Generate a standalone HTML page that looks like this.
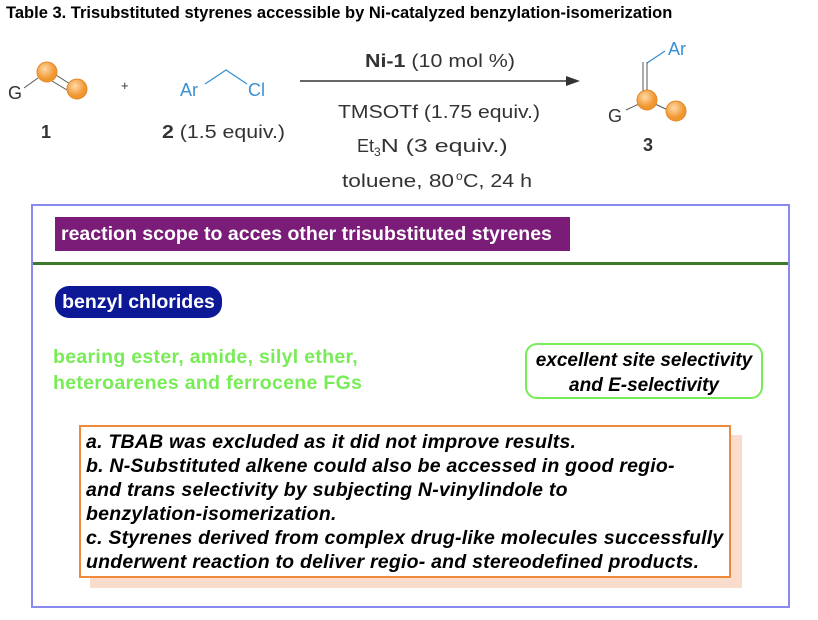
<!DOCTYPE html>
<html><head><style>
body{margin:0;width:818px;height:620px;background:#fff;position:relative;font-family:"Liberation Sans",sans-serif;overflow:hidden}
.a{position:absolute;white-space:nowrap}
</style></head><body>
<div class="a" style="left:6px;top:4px;font-size:16.5px;font-weight:bold;color:#000">Table 3. Trisubstituted styrenes accessible by Ni-catalyzed benzylation-isomerization</div>
<svg class="a" style="left:0;top:0" width="818" height="200">
<defs><radialGradient id="g" cx="40%" cy="35%"><stop offset="0" stop-color="#ffd9a8"/><stop offset="1" stop-color="#f0962e"/></radialGradient></defs>
<g font-family="Liberation Sans" font-size="18" fill="#333">
<line x1="24" y1="88" x2="38" y2="78" stroke="#555"/>
<line x1="56" y1="75" x2="70" y2="84" stroke="#555"/>
<line x1="52" y1="81" x2="67" y2="90" stroke="#555"/>
<circle cx="47" cy="72" r="10" fill="url(#g)" stroke="#e08a2a"/>
<circle cx="77" cy="89" r="10" fill="url(#g)" stroke="#e08a2a"/>
<text x="8" y="99">G</text>
<text x="41" y="138" font-weight="bold">1</text>
<text x="121" y="90" font-size="13">+</text>
<text x="180" y="96" fill="#3a8fd0">Ar</text>
<polyline points="205,84 226,70 247,84" fill="none" stroke="#3a8fd0" stroke-width="1.3"/>
<text x="248" y="96" fill="#3a8fd0">Cl</text>
<text x="162" y="138" textLength="123" lengthAdjust="spacingAndGlyphs"><tspan font-weight="bold">2</tspan> (1.5 equiv.)</text>
<line x1="300" y1="81" x2="570" y2="81" stroke="#333" stroke-width="1.5"/>
<polygon points="580,81 566,76 566,86" fill="#333"/>
<text x="365" y="67" textLength="150" lengthAdjust="spacingAndGlyphs"><tspan font-weight="bold">Ni-1</tspan> (10 mol %)</text>
<text x="338" y="118" textLength="202" lengthAdjust="spacingAndGlyphs">TMSOTf (1.75 equiv.)</text>
<text x="357" y="152">Et<tspan font-size="12" dy="4">3</tspan><tspan dy="-4" textLength="127" lengthAdjust="spacingAndGlyphs">N (3 equiv.)</tspan></text>
<text x="342" y="187" textLength="112" lengthAdjust="spacingAndGlyphs">toluene, 80 </text>
<text x="456" y="180" font-size="12">o</text>
<text x="463" y="187" textLength="69" lengthAdjust="spacingAndGlyphs">C, 24 h</text>
<text x="668" y="55" fill="#3a8fd0">Ar</text>
<line x1="647" y1="63" x2="665" y2="51" stroke="#3a8fd0" stroke-width="1.3"/>
<line x1="643" y1="62" x2="643" y2="92" stroke="#555"/>
<line x1="647" y1="62" x2="647" y2="92" stroke="#555"/>
<line x1="626" y1="110" x2="639" y2="104" stroke="#555"/>
<line x1="655" y1="104" x2="668" y2="110" stroke="#555"/>
<circle cx="647" cy="100" r="10" fill="url(#g)" stroke="#e08a2a"/>
<circle cx="676" cy="111" r="10" fill="url(#g)" stroke="#e08a2a"/>
<text x="608" y="122">G</text>
<text x="643" y="151" font-weight="bold">3</text>
</g></svg>
<div class="a" style="left:31px;top:204px;width:755px;height:400px;border:2px solid #8a8aee"></div>
<div class="a" style="left:55px;top:217px;width:515px;height:34px;background:#7a1c78;color:#fff;font-size:19.5px;font-weight:bold;line-height:34px;padding-left:6px;box-sizing:border-box">reaction scope to acces other trisubstituted styrenes</div>
<div class="a" style="left:33px;top:262px;width:755px;height:3px;background:#3e7a2c"></div>
<div class="a" style="left:55px;top:286px;width:167px;height:32px;background:#0c1896;border-radius:14px;color:#fff;font-size:19.5px;font-weight:bold;line-height:32px;text-align:center">benzyl chlorides</div>
<div class="a" style="left:53px;top:344px;color:#78ec56;font-size:19.5px;font-weight:bold;line-height:26px;letter-spacing:0.3px">bearing ester, amide, silyl ether,<br>heteroarenes and ferrocene FGs</div>
<div class="a" style="left:525px;top:343px;width:234px;height:49px;border:2px solid #78ec56;border-radius:12px;font-size:19px;font-weight:bold;font-style:italic;text-align:center;line-height:25px;padding-top:3px;letter-spacing:0">excellent site selectivity<br>and E-selectivity</div>
<div class="a" style="left:90px;top:435px;width:652px;height:153px;background:#f9dccb"></div>
<div class="a" style="left:79px;top:425px;border:2px solid #ee8a3a;background:#fff;font-size:19.5px;font-weight:bold;font-style:italic;line-height:24px;padding:3px 0 0 5px;box-sizing:border-box;width:652px;height:153px;letter-spacing:0.22px">a. TBAB was excluded as it did not improve results.<br>b. N-Substituted alkene could also be accessed in good regio-<br>and trans selectivity by subjecting N-vinylindole to<br>benzylation-isomerization.<br>c. Styrenes derived from complex drug-like molecules successfully<br>underwent reaction to deliver regio- and stereodefined products.</div>
</body></html>
